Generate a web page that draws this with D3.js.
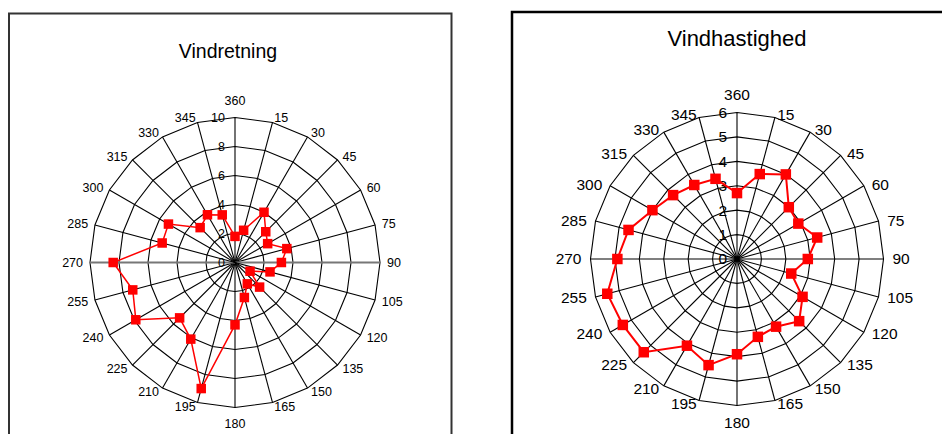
<!DOCTYPE html>
<html>
<head>
<meta charset="utf-8">
<script src="https://cdn.jsdelivr.net/npm/d3@7"></script>
<style>
  html, body { margin: 0; padding: 0; background: #fff; }
  svg { display: block; font-family: "Liberation Sans", Arial, Helvetica, sans-serif; }
</style>
</head>
<body>
<svg id="chart" width="942" height="434"></svg>
<script>
// ---- data ----
const categories = ["360","15","30","45","60","75","90","105","120","135","150","165",
                    "180","195","210","225","240","255","270","285","300","315","330","345"];
const vindretning = [1.8, 2.3, 4.0, 3.0, 2.6, 3.7, 3.2, 2.5, 1.2, 2.4, 1.7, 2.5,
                     4.3, 9.0, 6.1, 5.4, 7.9, 7.3, 8.4, 5.2, 5.3, 3.4, 3.8, 3.4];
const vindhastighed = [2.7, 3.6, 4.0, 3.0, 2.9, 3.4, 2.9, 2.3, 3.1, 3.6, 3.2, 3.3,
                       3.9, 4.5, 4.1, 5.4, 5.4, 5.5, 4.9, 4.6, 4.0, 3.7, 3.5, 3.4];
const ticksLeft = [0, 2, 4, 6, 8, 10];
const ticksRight = [0, 1, 2, 3, 4, 5, 6];
const titleLeft = "Vindretning";
const titleRight = "Vindhastighed";

const svg = d3.select("#chart");
svg.append("rect").attr("width", 942).attr("height", 434).attr("fill", "#fff");

// frames
svg.append("rect").attr("x", 9).attr("y", 13.5).attr("width", 442.5).attr("height", 440)
  .attr("fill", "none").attr("stroke", "#333").attr("stroke-width", 2);
svg.append("rect").attr("x", 512).attr("y", 12).attr("width", 440).attr("height", 440)
  .attr("fill", "none").attr("stroke", "#000").attr("stroke-width", 2.5);

function radar(cfg) {
  const g = svg.append("g");
  const n = categories.length;
  const ang = d3.scaleLinear().domain([0, n]).range([0, 2 * Math.PI]);
  const rad = d3.scaleLinear().domain([0, d3.max(cfg.ticks)]).range([0, cfg.R]);
  const px = (i, v) => cfg.cx + rad(v) * Math.sin(ang(i));
  const py = (i, v) => cfg.cy - rad(v) * Math.cos(ang(i));
  const vmax = d3.max(cfg.ticks);

  // rings (polygons)
  cfg.ticks.filter(t => t > 0).forEach(t => {
    g.append("path")
      .attr("d", d3.line()(d3.range(n).map(i => [px(i, t), py(i, t)])) + "Z")
      .attr("fill", "none").attr("stroke", "#000").attr("stroke-width", 1.1);
  });
  // spokes
  d3.range(n).forEach(i => {
    const horiz = (i === 6 || i === 18) && cfg.grayHoriz;
    g.append("line")
      .attr("x1", cfg.cx).attr("y1", cfg.cy)
      .attr("x2", px(i, vmax)).attr("y2", py(i, vmax))
      .attr("stroke", horiz ? "#777" : "#000")
      .attr("stroke-width", horiz ? 2 : 1.1);
  });
  // value labels
  cfg.ticks.forEach(t => {
    g.append("text")
      .attr("x", cfg.cx - cfg.valOff).attr("y", cfg.cy - rad(t))
      .attr("dy", "0.35em").attr("text-anchor", "end")
      .attr("font-size", cfg.fs).text(t);
  });
  // category labels
  categories.forEach((c, i) => {
    const a = ang(i);
    const ex = px(i, vmax), ey = py(i, vmax);
    let x, y, anchor;
    if (i === 0) { x = ex; y = ey - cfg.topOff; anchor = "middle"; }
    else if (i === n / 2) { x = ex; y = ey + cfg.botOff; anchor = "middle"; }
    else {
      x = ex + Math.sin(a) * cfg.labX;
      y = ey - Math.cos(a) * cfg.labY;
      anchor = i < n / 2 ? "start" : "end";
    }
    g.append("text").attr("x", x).attr("y", y).attr("dy", "0.35em")
      .attr("text-anchor", anchor).attr("font-size", cfg.fs).text(c);
  });
  // data line
  const line = d3.lineRadial()
    .angle((d, i) => ang(i)).radius(d => rad(d))
    .curve(d3.curveLinearClosed);
  g.append("path").datum(cfg.values)
    .attr("transform", `translate(${cfg.cx},${cfg.cy})`)
    .attr("d", line).attr("fill", "none")
    .attr("stroke", "#ff0000").attr("stroke-width", cfg.lw);
  g.selectAll("rect.m").data(cfg.values).enter().append("rect")
    .attr("x", (d, i) => px(i, d) - cfg.ms / 2)
    .attr("y", (d, i) => py(i, d) - cfg.ms / 2)
    .attr("width", cfg.ms).attr("height", cfg.ms)
    .attr("fill", "#ff0000");
  // title
  svg.append("text").attr("x", cfg.tx).attr("y", cfg.ty)
    .attr("text-anchor", "middle").attr("font-size", cfg.tfs).text(cfg.title);
}

radar({ cx: 235, cy: 262.5, R: 145, ticks: ticksLeft, values: vindretning,
        fs: 12.5, valOff: 10, topOff: 16.5, botOff: 16.5, labX: 7, labY: 4.5,
        lw: 1.5, ms: 9.5, grayHoriz: true,
        title: titleLeft, tx: 228, ty: 58.3, tfs: 19.5 });
radar({ cx: 737, cy: 259, R: 146.5, ticks: ticksRight, values: vindhastighed,
        fs: 15.5, valOff: 10, topOff: 18, botOff: 17.5, labX: 9, labY: 3,
        lw: 2, ms: 10.5, grayHoriz: false,
        title: titleRight, tx: 737, ty: 46, tfs: 22 });
</script>
</body>
</html>
